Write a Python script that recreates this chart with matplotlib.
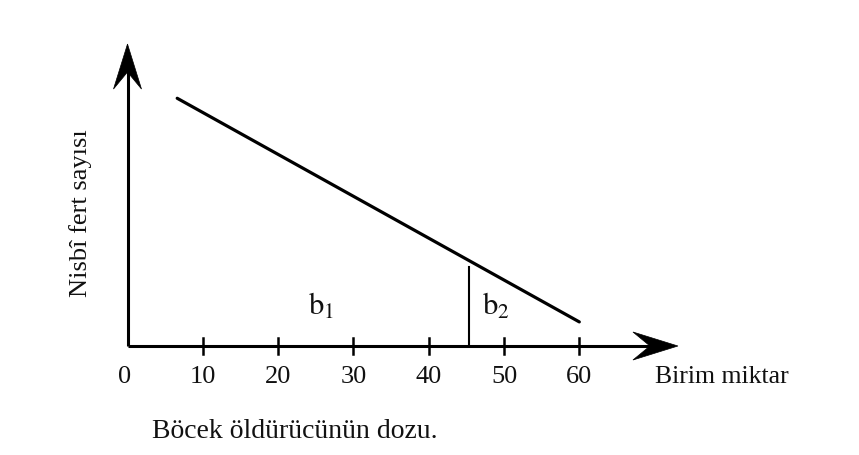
import matplotlib
matplotlib.use("Agg")
import matplotlib.pyplot as plt

plt.rcParams['font.family'] = ['Liberation Serif', 'DejaVu Serif']
plt.rcParams['mathtext.fontset'] = 'stix'

# ---- data (units: x = dose, y = relative count in arbitrary units) ----
x_ticks = [0, 10, 20, 30, 40, 50, 60]
x_tick_labels = ['0', '10', '20', '30', '40', '50', '60']
line_x = [6.6, 60.0]
line_y = [32.9, 3.2]
split_x = 45.3
split_top = 10.5
x_axis_end = 73.1
y_axis_end = 40.1
region_labels = [r'$\mathrm{b}_1$', r'$\mathrm{b}_2$']
region_x = [25.7, 48.9]
region_y = [5.4, 5.3]
x_label = 'Birim miktar'
y_label = 'Nisbî fert sayısı'
caption = 'Böcek öldürücünün dozu.'

W, H = 859, 456
PX = 7.53          # pixels per unit
X0, Y0 = 127.5, 347.0

fig = plt.figure(figsize=(W / 100, H / 100), dpi=100)
ax = fig.add_axes([0, 0, 1, 1])
ax.set_xlim(-X0 / PX, (W - X0) / PX)
ax.set_ylim(-(H - Y0) / PX, Y0 / PX)
ax.axis('off')

lw_axis = 2.2
# axes lines
ax.plot([0, x_axis_end - 3.0], [0, 0], color='black', lw=lw_axis, solid_capstyle='butt')
ax.plot([0, 0], [0, y_axis_end - 3.0], color='black', lw=lw_axis, solid_capstyle='butt')

# barbed arrow heads (relative to axis ends)
hl, hw, notch = 45 / PX, 14 / PX, 28 / PX
ax.fill([x_axis_end, x_axis_end - hl, x_axis_end - notch, x_axis_end - hl],
        [0, hw, 0, -hw], color='black', lw=0.5)
ax.fill([0, hw, 0, -hw],
        [y_axis_end, y_axis_end - hl, y_axis_end - notch, y_axis_end - hl],
        color='black', lw=0.5)

# ticks and tick labels
tick_half = 8 / PX
for xv, lab in zip(x_ticks, x_tick_labels):
    if xv != 0:
        ax.plot([xv, xv], [-tick_half, tick_half], color='black', lw=1.8)
    ax.text(xv - (0.4 if xv == 0 else 0), -30 / PX, lab, ha='center', va='center',
            fontsize=19, color='#111111')

# main line
ax.plot(line_x, line_y, color='black', lw=2.3, solid_capstyle='round')
# split line
ax.plot([split_x, split_x], [0, split_top], color='black', lw=1.5)

for t, xv, yv in zip(region_labels, region_x, region_y):
    ax.text(xv, yv, t, ha='center', va='center', fontsize=22, color='#111111')

ax.text(70.05, -30 / PX, x_label, ha='left', va='center', fontsize=18.5, color='#111111')
ax.text(-6.3, 17.8, y_label, ha='center', va='center', rotation=90, fontsize=19,
        color='#111111')
ax.text(152 / PX - X0 / PX, -85 / PX, caption, ha='left', va='center', fontsize=20,
        color='#111111')

fig.savefig('out.png', dpi=100, facecolor='white')
